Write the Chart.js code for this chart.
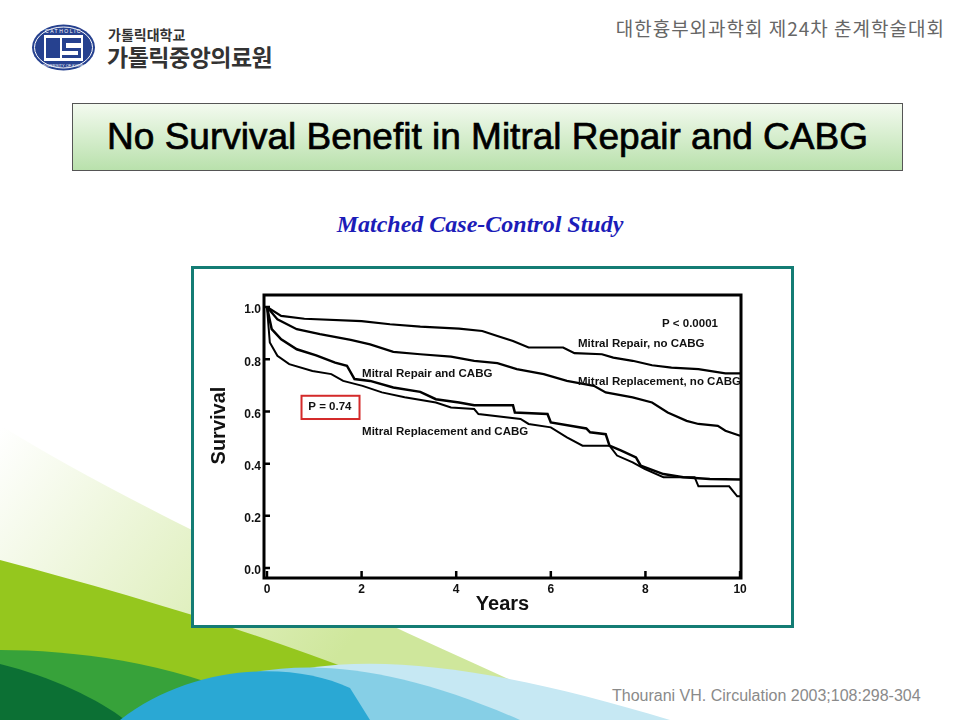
<!DOCTYPE html>
<html>
<head>
<meta charset="utf-8">
<script src="https://cdn.jsdelivr.net/npm/chart.js@4"></script>
<style>
  body { margin: 0; background: #fff; }
  #slide { position: relative; width: 960px; height: 720px; overflow: hidden; background: #fff; font-family: 'Liberation Sans', Arial, sans-serif; }
  #bg { position: absolute; left: 0; top: 0; }
  .abs { position: absolute; }
  #hosp1 { left: 108px; top: 24px; font: bold 14px 'Noto Sans CJK KR'; color: #333; }
  #hosp2 { left: 107px; top: 39px; font: bold 23px 'Noto Sans CJK KR'; color: #333; letter-spacing: -0.5px; }
  #conf { right: 15px; top: 14px; font: 19px 'Noto Sans CJK KR'; color: #666; letter-spacing: 1px; }
  #titlebox { left: 72px; top: 103px; width: 831px; height: 68px; box-sizing: border-box; border: 1px solid #555;
    background: linear-gradient(#f3faef, #b9e1ac); text-align: center; line-height: 66px; font-size: 37px; color: #000;
    -webkit-text-stroke: 0.7px #000; }
  #subtitle { left: 0; width: 960px; top: 211px; text-align: center; font: italic bold 24px 'Liberation Serif', 'Times New Roman', serif; color: #1c1cb8; }
  #frame { left: 191px; top: 266px; width: 603px; height: 362px; box-sizing: border-box; border: 3px solid #147c74; background: #fff; }
  #chart { left: 194px; top: 269px; }
  #cite { left: 612px; top: 687px; font-size: 16px; color: #8a8a8a; }
</style>
</head>
<body>
<div id="slide">
  <svg id="bg" width="960" height="720">
    <defs>
      <linearGradient id="pale" x1="0" y1="430" x2="320" y2="680" gradientUnits="userSpaceOnUse">
        <stop offset="0" stop-color="#ffffff"/>
        <stop offset="1" stop-color="#cfe79c"/>
      </linearGradient>
    </defs>
    <path d="M0,425 C120,500 330,600 600,720 L0,720 Z" fill="url(#pale)"/>
    <path d="M0,560 C150,600 320,650 470,720 L0,720 Z" fill="#95c71e"/>
    <path d="M0,650 C80,650 200,665 290,720 L0,720 Z" fill="#37a23a"/>
    <path d="M0,664 C50,676 100,700 125,720 L0,720 Z" fill="#0c7034"/>
    <path d="M190,720 C280,640 440,650 670,720 Z" fill="#c6e8f3"/>
    <path d="M150,720 C240,650 360,650 520,720 Z" fill="#86cfe6"/>
    <path d="M120,720 C190,665 290,660 350,688 L370,720 Z" fill="#2aa8d4"/>
    <!-- emblem -->
    <ellipse cx="63.5" cy="47.5" rx="31.5" ry="23" fill="#26418f"/>
    <ellipse cx="63.5" cy="47.5" rx="29" ry="20.5" fill="none" stroke="#fff" stroke-width="1"/>
    <rect x="44" y="35" width="39" height="26" fill="#fff"/>
    <path d="M46,38 h14 v20 h-14 Z M62,38 h19 v5 h-15 v5 h15 v10 h-19 v-3 h16 v-4 h-16 Z" fill="#26418f"/>
    <text x="63.5" y="33" font-size="5" fill="#fff" text-anchor="middle" font-family="Liberation Sans" letter-spacing="1.5">CATHOLIC</text>
    <text x="63.5" y="67" font-size="4" fill="#fff" text-anchor="middle" font-family="Liberation Sans">UNIVERSITY OF KOREA</text>
  </svg>
  <div id="hosp1" class="abs">가톨릭대학교</div>
  <div id="hosp2" class="abs">가톨릭중앙의료원</div>
  <div id="conf" class="abs">대한흉부외과학회 제24차 춘계학술대회</div>
  <div id="titlebox" class="abs">No Survival Benefit in Mitral Repair and CABG</div>
  <div id="subtitle" class="abs">Matched Case-Control Study</div>
  <div id="frame" class="abs"></div>
  <canvas id="chart" class="abs" width="597" height="356"></canvas>
  <div id="cite" class="abs">Thourani VH. Circulation 2003;108:298-304</div>
</div>
<script>
// tick values
const xTicks = [0, 2, 4, 6, 8, 10];
const yTicks = [0, 0.2, 0.4, 0.6, 0.8, 1.0];

// survival curves: [years, survival]
const repairNoCabg = [[0, 1.0], [0.3, 0.966], [0.79, 0.955], [2.0, 0.946], [2.6, 0.934], [3.24, 0.925], [4.06, 0.917], [4.55, 0.908], [4.87, 0.889], [5.2, 0.87], [5.53, 0.845], [6.26, 0.845], [6.5, 0.823], [7.08, 0.819], [7.32, 0.806], [7.73, 0.794], [8.14, 0.777], [8.55, 0.768], [9.12, 0.762], [9.69, 0.746], [10.0, 0.746]];
const replNoCabg = [[0, 1.0], [0.22, 0.953], [0.63, 0.915], [1.12, 0.896], [1.77, 0.874], [2.18, 0.857], [2.67, 0.828], [3.24, 0.819], [3.89, 0.81], [4.38, 0.794], [4.87, 0.785], [5.28, 0.762], [5.85, 0.743], [6.34, 0.717], [6.91, 0.698], [7.16, 0.673], [7.73, 0.654], [8.14, 0.634], [8.47, 0.596], [8.87, 0.564], [9.12, 0.552], [9.53, 0.545], [9.69, 0.526], [10.0, 0.507]];
const repairCabg = [[0, 1.0], [0.1, 0.915], [0.3, 0.876], [0.63, 0.838], [1.04, 0.815], [1.44, 0.787], [1.69, 0.775], [1.85, 0.724], [2.18, 0.717], [2.67, 0.692], [3.24, 0.675], [3.57, 0.647], [4.06, 0.634], [4.38, 0.624], [5.2, 0.624], [5.24, 0.596], [5.93, 0.59], [6.0, 0.558], [6.75, 0.535], [6.83, 0.52], [7.16, 0.513], [7.24, 0.469], [7.49, 0.45], [7.8, 0.424], [7.9, 0.392], [8.38, 0.36], [8.8, 0.348], [9.36, 0.341], [10.0, 0.339]];
const replCabg = [[0, 1.0], [0.06, 0.864], [0.22, 0.813], [0.47, 0.781], [0.96, 0.755], [1.36, 0.743], [1.61, 0.717], [2.02, 0.698], [2.43, 0.673], [2.91, 0.654], [3.57, 0.634], [3.89, 0.615], [4.38, 0.609], [4.47, 0.59], [5.36, 0.571], [5.53, 0.552], [6.0, 0.539], [6.34, 0.501], [6.67, 0.469], [7.24, 0.469], [7.4, 0.431], [7.73, 0.405], [7.98, 0.38], [8.38, 0.348], [9.04, 0.348], [9.12, 0.313], [9.77, 0.313], [9.94, 0.275], [10.0, 0.275]];

const pts = arr => arr.map(p => ({ x: p[0], y: p[1] }));
const line = (label, arr, w) => ({ label, data: pts(arr), borderColor: '#000', borderWidth: w, pointRadius: 0, tension: 0, fill: false });

const framePlugin = {
  id: 'frame',
  afterDatasetsDraw(chart) {
    const { ctx, chartArea: a, scales: { x, y } } = chart;
    ctx.save();
    ctx.strokeStyle = '#000';
    ctx.lineWidth = 3;
    ctx.strokeRect(a.left, a.top, a.right - a.left, a.bottom - a.top);
    ctx.lineWidth = 2.5;
    ctx.beginPath();
    yTicks.forEach(v => { const py = y.getPixelForValue(v); ctx.moveTo(a.left, py); ctx.lineTo(a.left + 6, py); });
    xTicks.forEach(v => { const px = x.getPixelForValue(v); ctx.moveTo(px, a.bottom); ctx.lineTo(px, a.bottom - 7); });
    ctx.stroke();

    // y axis title, sits a little above the middle of the axis in the figure
    ctx.fillStyle = '#111';
    ctx.font = 'bold 20px "Liberation Sans", Arial, sans-serif';
    ctx.textAlign = 'center';
    ctx.textBaseline = 'middle';
    ctx.save();
    ctx.translate(25, y.getPixelForValue(0.546));
    ctx.rotate(-Math.PI / 2);
    ctx.fillText('Survival', 0, 0);
    ctx.restore();

    ctx.font = 'bold 11.5px "Liberation Sans", Arial, sans-serif';
    ctx.textAlign = 'left';
    const note = (t, xv, yv) => ctx.fillText(t, x.getPixelForValue(xv), y.getPixelForValue(yv));
    note('P < 0.0001', 8.35, 0.935);
    note('Mitral Repair, no CABG', 6.575, 0.858);
    note('Mitral Replacement, no CABG', 6.575, 0.713);
    note('Mitral Repair and CABG', 2.01, 0.743);
    note('Mitral Replacement and CABG', 2.01, 0.521);
    ctx.textAlign = 'center';
    note('P = 0.74', 1.33, 0.617);
    ctx.strokeStyle = '#d42a2a';
    ctx.lineWidth = 2;
    const bx0 = x.getPixelForValue(0.73), bx1 = x.getPixelForValue(1.956);
    const by0 = y.getPixelForValue(0.660), by1 = y.getPixelForValue(0.571);
    ctx.strokeRect(bx0, by0, bx1 - bx0, by1 - by0);
    ctx.restore();
  }
};

new Chart(document.getElementById('chart'), {
  type: 'line',
  data: {
    datasets: [
      line('Mitral Repair, no CABG', repairNoCabg, 2.2),
      line('Mitral Replacement, no CABG', replNoCabg, 2.2),
      line('Mitral Repair and CABG', repairCabg, 2.5),
      line('Mitral Replacement and CABG', replCabg, 2)
    ]
  },
  options: {
    responsive: false,
    animation: false,
    layout: { padding: { top: 26, right: 50, left: 0, bottom: 0 } },
    plugins: { legend: { display: false }, tooltip: { enabled: false } },
    scales: {
      x: {
        type: 'linear', min: -0.063, max: 10.02,
        afterBuildTicks: s => { s.ticks = xTicks.map(v => ({ value: v })); },
        afterFit: s => { s.height = 47; },
        grid: { display: false, drawTicks: false }, border: { display: false },
        ticks: { color: '#111', padding: 4, maxRotation: 0, font: { family: 'Liberation Sans', weight: 'bold', size: 12 } },
        title: { display: true, text: 'Years', color: '#111', padding: { top: 0, bottom: 9 }, font: { family: 'Liberation Sans', weight: 'bold', size: 20 } }
      },
      y: {
        min: -0.038, max: 1.046,
        afterBuildTicks: s => { s.ticks = yTicks.map(v => ({ value: v })); },
        afterFit: s => { s.width = 70; },
        grid: { display: false, drawTicks: false }, border: { display: false },
        ticks: { color: '#111', padding: 3, labelOffset: 3, callback: v => v.toFixed(1), font: { family: 'Liberation Sans', weight: 'bold', size: 12 } },
        title: { display: false }
      }
    }
  },
  plugins: [framePlugin]
});
</script>
</body>
</html>
